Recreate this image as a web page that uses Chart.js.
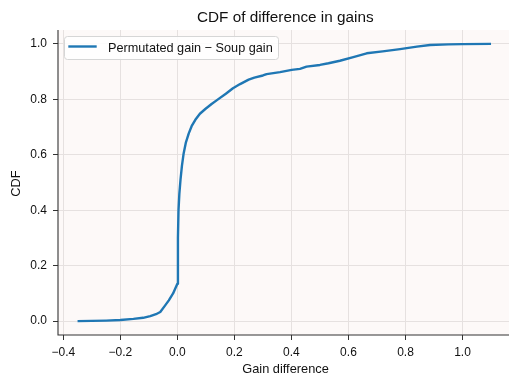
<!DOCTYPE html>
<html>
<head>
<meta charset="utf-8">
<script src="https://cdn.jsdelivr.net/npm/chart.js@4/dist/chart.umd.min.js"></script>
<style>
  html, body { margin: 0; padding: 0; background: #ffffff; }
  #wrap { width: 509px; height: 375px; position: relative; }
</style>
</head>
<body>
<div id="wrap"><canvas id="c" width="509" height="375"></canvas></div>
<script>
// Data
const chartTitle = "CDF of difference in gains";
const seriesLabel = "Permutated gain \u2212 Soup gain";
const xAxisTitle = "Gain difference";
const yAxisTitle = "CDF";
const xTickValues = [-0.4, -0.2, 0.0, 0.2, 0.4, 0.6, 0.8, 1.0];
const yTickValues = [0.0, 0.2, 0.4, 0.6, 0.8, 1.0];
const diffX = [-0.35, -0.30, -0.25, -0.20, -0.154, -0.12, -0.095, -0.075, -0.06, -0.044, -0.03, -0.015, 0.0,
  0.002, 0.004, 0.007, 0.011, 0.016, 0.022, 0.030, 0.040, 0.050, 0.063, 0.079, 0.098, 0.12, 0.14,
  0.17, 0.195, 0.22, 0.25, 0.27, 0.30, 0.313, 0.36, 0.401, 0.43, 0.453, 0.50, 0.53, 0.57, 0.617, 0.664,
  0.72, 0.781, 0.84, 0.886, 0.95, 1.0, 1.10];
const cdfY = [0.000, 0.001, 0.002, 0.004, 0.008, 0.012, 0.018, 0.025, 0.033, 0.055, 0.075, 0.100, 0.135,
  0.30, 0.40, 0.46, 0.51, 0.56, 0.605, 0.645, 0.677, 0.703, 0.726, 0.748, 0.765, 0.783, 0.798,
  0.820, 0.840, 0.855, 0.871, 0.878, 0.886, 0.891, 0.898, 0.906, 0.910, 0.918, 0.924, 0.930, 0.939, 0.952, 0.966,
  0.973, 0.981, 0.990, 0.996, 0.998, 0.999, 1.000];

const points = diffX.map((x, i) => ({ x: x, y: cdfY[i] }));
const FONT = "'Liberation Sans', Arial, Helvetica, sans-serif";

const bgPlugin = {
  id: 'bgPlugin',
  beforeDraw(chart) {
    const { ctx, chartArea: a } = chart;
    ctx.save();
    ctx.fillStyle = '#fdf9f8';
    ctx.fillRect(a.left, a.top, a.right - a.left, a.bottom - a.top);
    ctx.restore();
  },
  afterDraw(chart) {
    const { ctx, chartArea: a } = chart;
    ctx.save();
    // spines
    ctx.strokeStyle = '#333333';
    ctx.lineWidth = 1.1;
    ctx.beginPath();
    ctx.moveTo(a.left, a.top);
    ctx.lineTo(a.left, a.bottom);
    ctx.lineTo(a.right, a.bottom);
    ctx.stroke();
    // title
    ctx.fillStyle = '#111111';
    ctx.font = '15.3px ' + FONT;
    ctx.textAlign = 'center';
    ctx.textBaseline = 'alphabetic';
    ctx.fillText(chartTitle, 285.3, 21.5);
    // axis titles
    ctx.font = '12.8px ' + FONT;
    ctx.fillText(xAxisTitle, 285.5, 373);
    ctx.save();
    ctx.translate(19.5, 183.5);
    ctx.rotate(-Math.PI / 2);
    ctx.fillText(yAxisTitle, 0, 0);
    ctx.restore();
    // legend
    const lx = 64, ly = 36, lw = 214, lh = 23;
    ctx.fillStyle = 'rgba(255,255,255,0.85)';
    ctx.strokeStyle = '#d6d6d6';
    ctx.lineWidth = 1;
    ctx.beginPath();
    ctx.roundRect(lx + 0.5, ly + 0.5, lw, lh, 3);
    ctx.fill();
    ctx.stroke();
    ctx.strokeStyle = '#1f77b4';
    ctx.lineWidth = 2.4;
    ctx.beginPath();
    ctx.moveTo(68.3, 46.5);
    ctx.lineTo(96.7, 46.5);
    ctx.stroke();
    ctx.fillStyle = '#111111';
    ctx.font = '12.7px ' + FONT;
    ctx.textAlign = 'left';
    ctx.textBaseline = 'alphabetic';
    ctx.fillText(seriesLabel, 108, 52.3);
    ctx.restore();
  }
};

new Chart(document.getElementById('c'), {
  type: 'line',
  data: {
    datasets: [{
      label: seriesLabel,
      data: points,
      borderColor: '#1f77b4',
      borderWidth: 2.4,
      borderJoinStyle: 'round',
      borderCapStyle: 'butt',
      pointRadius: 0,
      tension: 0,
      fill: false
    }]
  },
  options: {
    responsive: false,
    animation: false,
    layout: { padding: { top: 30, left: 0, right: 0, bottom: 0 } },
    plugins: { legend: { display: false }, title: { display: false }, tooltip: { enabled: false } },
    scales: {
      x: {
        type: 'linear',
        min: -0.4186,
        max: 1.163,
        afterBuildTicks(scale) { scale.ticks = xTickValues.map(v => ({ value: v })); },
        afterFit(scale) { scale.height = 40; },
        grid: { color: '#e6e1e0', lineWidth: 1, drawTicks: true, tickLength: 5, tickColor: '#333333', tickWidth: 1 },
        border: { display: false },
        ticks: {
          color: '#111111', font: { family: FONT, size: 12 }, padding: 5, maxRotation: 0,
          callback: v => (v < 0 ? '\u2212' : '') + Math.abs(v).toFixed(1)
        }
      },
      y: {
        type: 'linear',
        min: -0.05,
        max: 1.05,
        afterBuildTicks(scale) { scale.ticks = yTickValues.map(v => ({ value: v })); },
        afterFit(scale) { scale.width = 58; },
        grid: { color: '#e6e1e0', lineWidth: 1, drawTicks: true, tickLength: 5, tickColor: '#333333', tickWidth: 1 },
        border: { display: false },
        ticks: {
          color: '#111111', font: { family: FONT, size: 12 }, padding: 6,
          callback: v => Math.abs(v).toFixed(1)
        }
      }
    }
  },
  plugins: [bgPlugin]
});
</script>
</body>
</html>
